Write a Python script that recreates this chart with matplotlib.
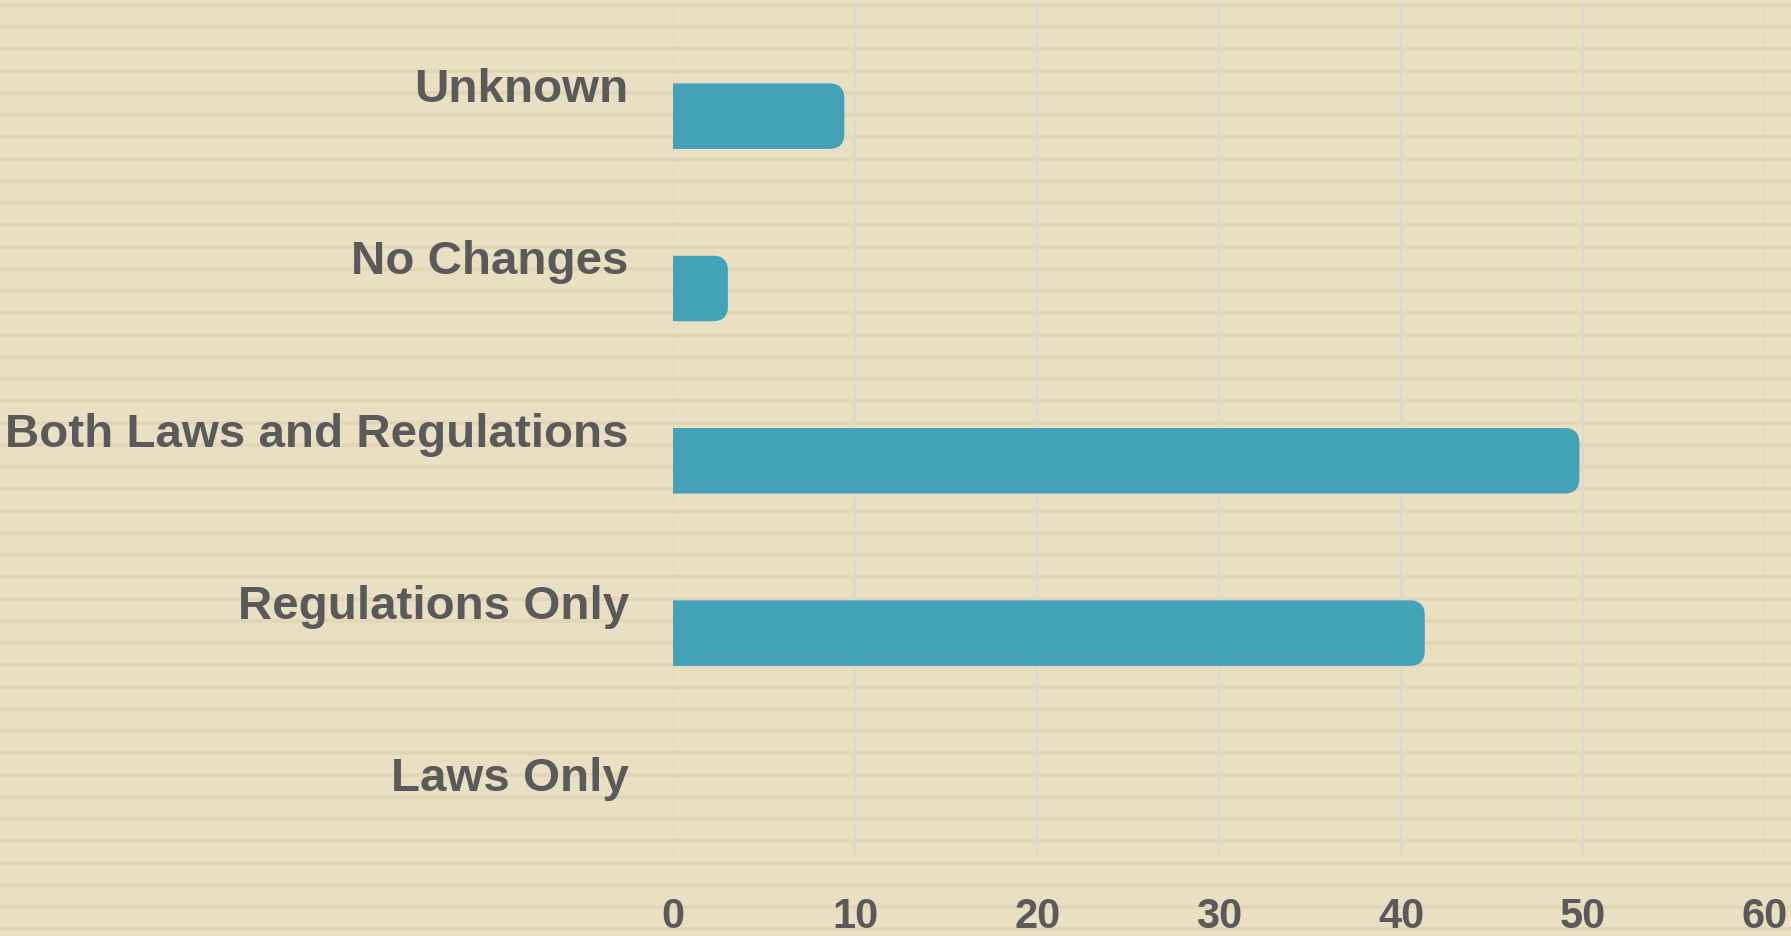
import matplotlib
matplotlib.use('Agg')
import matplotlib.pyplot as plt
from matplotlib.patches import FancyBboxPatch
from matplotlib.transforms import ScaledTranslation

categories = ['Laws Only', 'Regulations Only', 'Both Laws and Regulations', 'No Changes', 'Unknown']
values = [0, 41.3, 49.8, 3.0, 9.4]
xticks = [0, 10, 20, 30, 40, 50, 60]

bg = '#e9dfc3'
stripe = '#e1d6b5'
bar_color = '#43a2b8'
text_color = '#5a5a5a'
grid_color = '#dcd9d2'

plt.rcParams['font.family'] = ['Liberation Sans', 'DejaVu Sans']
plt.rcParams['font.weight'] = 'bold'

W, H = 1791, 936
fig = plt.figure(figsize=(W / 100, H / 100), dpi=100)
fig.patch.set_facecolor(bg)

# striped paper backdrop
back = fig.add_axes([0, 0, 1, 1], zorder=-1)
back.set_xlim(0, W)
back.set_ylim(H, 0)
back.axis('off')
for y in range(5, H + 22, 22):
    back.axhspan(y - 2, y + 2, color=stripe, lw=0)

ax = fig.add_axes([673.3 / W, 78 / H, (1765 - 673.3) / W, 858 / H])
ax.patch.set_visible(False)
ax.set_xlim(0, 60)
ax.set_ylim(-0.305, 4.674)
for s in ax.spines.values():
    s.set_visible(False)
ax.grid(axis='x', color=grid_color, lw=1.6)
ax.set_axisbelow(True)

# rounded right ends (~15px radius); left corners start before 0 and get clipped
bar_h = 0.38
r_px = 15
rx = r_px * 60 / (1765 - 673.3)
ry = r_px * (4.674 + 0.305) / 858
for i, v in enumerate(values):
    if v <= 0:
        continue
    p = FancyBboxPatch((-2 * rx, i - bar_h / 2), v + 2 * rx, bar_h,
                       boxstyle='round,pad=0,rounding_size=%f' % rx,
                       mutation_aspect=ry / rx, fc=bar_color, ec='none', zorder=2)
    ax.add_patch(p)

ax.set_xticks(xticks, [str(t) for t in xticks])
ax.set_yticks(range(len(categories)), categories)
ax.tick_params(axis='x', length=0, pad=28, labelsize=30, labelcolor=text_color)
ax.tick_params(axis='y', length=0, pad=32, labelsize=34.2, labelcolor=text_color)
shift = ScaledTranslation(0, 14 / 100, fig.dpi_scale_trans)
for lab in ax.get_yticklabels():
    lab.set_va('baseline')
    lab.set_transform(lab.get_transform() + shift)

fig.savefig('out.png', dpi=100, facecolor=bg)
